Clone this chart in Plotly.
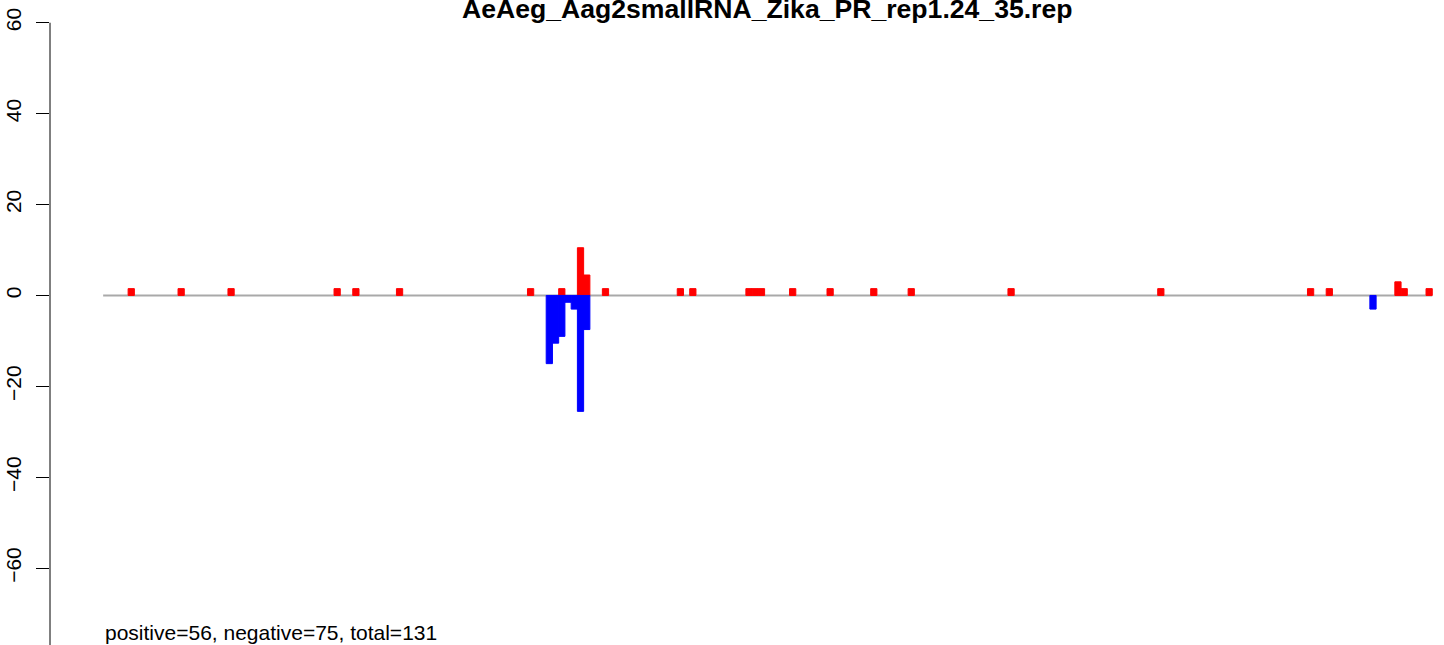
import plotly.graph_objects as go

# bin positions (0..212) and read counts per strand
pos_x = [4, 12, 20, 37, 40, 47, 68, 73, 76, 77, 80, 92, 94, 103, 104, 105, 110,
         116, 123, 129, 145, 169, 193, 196, 207, 208, 212]
pos_y = [1.5, 1.5, 1.5, 1.5, 1.5, 1.5, 1.5, 1.5, 10.5, 4.5, 1.5, 1.5, 1.5, 1.5, 1.5, 1.5, 1.5,
         1.5, 1.5, 1.5, 1.5, 1.5, 1.5, 1.5, 3.0, 1.5, 1.5]
neg_x = [71, 72, 73, 74, 75, 76, 77, 203]
neg_y = [-15, -10.5, -9, -1.5, -3, -25.5, -7.5, -3]
n_bins = 213
y_ticks = [-80, -60, -40, -20, 0, 20, 40, 60]

title = "AeAeg_Aag2smallRNA_Zika_PR_rep1.24_35.rep"
summary = "positive=56, negative=75, total=131"

font = "Liberation Sans, Arial, sans-serif"

fig = go.Figure()
fig.add_trace(go.Bar(x=[p + 0.5 for p in pos_x], y=pos_y, width=1,
                     marker=dict(color="#FF0000", line=dict(color="#FF0000", width=1))))
fig.add_trace(go.Bar(x=[p + 0.5 for p in neg_x], y=neg_y, width=1,
                     marker=dict(color="#0000FF", line=dict(color="#0000FF", width=1))))

# zero line across all bins
fig.add_shape(type="line", x0=0, x1=n_bins, y0=0, y1=0, xref="x", yref="y",
              line=dict(color="#A9A9A9", width=2), layer="below")
# R-style y axis line from first to last tick
fig.add_shape(type="line", x0=0, x1=0, y0=min(y_ticks), y1=max(y_ticks),
              xref="paper", yref="y", line=dict(color="black", width=1))

fig.add_annotation(text="<b>" + title + "</b>", xref="paper", yref="paper",
                   x=(768 - 50) / 1394, y=1, xanchor="center", yanchor="top",
                   yshift=8, showarrow=False,
                   font=dict(family=font, size=26.6, color="black"))
fig.add_annotation(text=summary, xref="x", yref="paper", x=0, y=0,
                   xanchor="left", yanchor="bottom", yshift=-1, showarrow=False,
                   font=dict(family=font, size=21, color="black"))

fig.update_layout(
    width=1444, height=645,
    margin=dict(l=50, r=0, t=0, b=0, autoexpand=False),
    paper_bgcolor="white", plot_bgcolor="white",
    barmode="overlay", showlegend=False, hovermode=False,
    font=dict(family=font, size=21, color="black"),
    xaxis=dict(range=[-8.52, 214.88], visible=False, fixedrange=True, automargin=False),
    yaxis=dict(range=[-76.9, 65.0], tickvals=y_ticks, ticks="outside", ticklen=13,
               tickwidth=1, tickcolor="black", tickangle=-90, showgrid=False,
               zeroline=False, showline=False, ticklabelstandoff=7, automargin=False),
)

fig.write_html("out.html", config={"displayModeBar": False},
               post_script="document.body.style.margin='0px';")
